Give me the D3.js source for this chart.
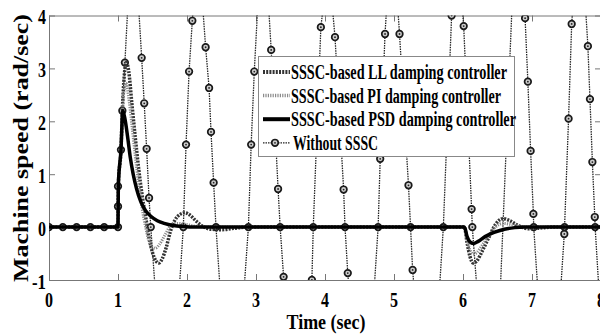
<!DOCTYPE html>
<html>
<head>
<meta charset="utf-8">
<script src="https://cdn.jsdelivr.net/npm/d3@7"></script>
<style>
  body { margin: 0; background: #fff; }
  text { font-family: "Liberation Serif", "Times New Roman", serif; font-weight: bold; fill: #000; }
</style>
</head>
<body>
<svg id="chart" width="600" height="335"></svg>
<script>
/*
  Machine speed after a disturbance, three SSSC damping controllers
  against the uncontrolled case
*/

// tick values
const timeTicks = [0, 1, 2, 3, 4, 5, 6, 7, 8]
const speedTicks = [-1, 0, 1, 2, 3, 4]

// [time (sec), speed (rad/sec)]
const llSpeed = [[0,0],[1.0,0],[1.005,0.8],[1.043,1.46],[1.063,2.2],[1.09,2.85],[1.12,3.11],[1.155,2.95],
  [1.2,2.35],[1.25,1.7],[1.3,1.1],[1.35,0.6],[1.4,0.2],[1.45,-0.2],[1.5,-0.48],[1.55,-0.64],[1.59,-0.68],
  [1.64,-0.6],[1.7,-0.38],[1.76,-0.08],[1.82,0.12],[1.9,0.24],[1.97,0.27],[2.04,0.23],[2.12,0.13],
  [2.22,0.02],[2.35,-0.04],[2.5,-0.05],[2.7,-0.02],[2.9,0],[6.0,0],[6.02,0],[6.06,-0.3],[6.1,-0.55],
  [6.15,-0.68],[6.2,-0.64],[6.28,-0.45],[6.38,-0.18],[6.47,0.05],[6.58,0.16],[6.68,0.12],[6.8,0.03],
  [6.95,-0.03],[7.1,-0.02],[7.3,0],[8,0]]

const piSpeed = [[0,0],[1.0,0],[1.005,0.8],[1.043,1.46],[1.063,2.2],[1.09,2.6],[1.115,2.72],[1.15,2.5],
  [1.2,1.95],[1.25,1.35],[1.3,0.8],[1.35,0.35],[1.4,0.0],[1.45,-0.27],[1.5,-0.38],[1.54,-0.4],[1.6,-0.33],
  [1.68,-0.15],[1.76,0.02],[1.85,0.07],[1.95,0.06],[2.1,0.02],[2.3,0],[6.0,0],[6.02,0],[6.06,-0.25],
  [6.1,-0.43],[6.15,-0.51],[6.2,-0.48],[6.28,-0.34],[6.38,-0.14],[6.48,0.01],[6.58,0.07],[6.7,0.05],
  [6.85,0.01],[7.0,0],[8,0]]

const psdSpeed = [[0,0],[1.0,0],[1.005,0.8],[1.043,1.46],[1.07,2.2],[1.1,2.05],[1.14,1.7],[1.18,1.3],
  [1.22,1.0],[1.27,0.72],[1.33,0.48],[1.4,0.31],[1.48,0.2],[1.57,0.12],[1.67,0.07],[1.8,0.03],
  [1.95,0.01],[2.1,0],[6.0,0],[6.02,0],[6.06,-0.18],[6.1,-0.28],[6.15,-0.31],[6.22,-0.27],[6.32,-0.18],
  [6.45,-0.1],[6.6,-0.04],[6.75,-0.01],[6.9,0],[8,0]]

// peaks and troughs beyond the axis are estimates, they get clipped
const withoutSpeed = [[0,0],[0.2,0],[0.4,0],[0.6,0],[0.8,0],[1.0,0],[1.0,0.39],[1.0,0.77],[1.043,1.46],
  [1.063,2.2],[1.10,3.11],[1.215,6.0],[1.343,3.2],[1.38,2.34],[1.415,1.48],[1.45,0.55],[1.475,0],
  [1.72,-4.5],[1.947,0],[1.986,1.56],[2.03,2.94],[2.077,3.9],[2.16,5.4],[2.27,3.40],[2.32,2.63],
  [2.348,1.80],[2.386,0.84],[2.42,0],[2.65,-4.5],[2.89,0],[2.93,1.56],[2.975,2.94],[3.10,6.0],
  [3.22,3.35],[3.32,0.72],[3.35,0],[3.40,-0.94],[3.6,-4.5],[3.81,-1.0],[3.83,0],[3.94,3.78],[4.05,5.0],
  [4.145,3.59],[4.27,0.71],[4.29,0],[4.33,-0.87],[4.55,-4.5],[4.77,0],[4.80,1.29],[4.87,3.65],[4.97,5.8],
  [5.08,3.65],[5.21,0.79],[5.24,0],[5.27,-0.81],[5.5,-4.5],[5.715,0],[5.835,4.0],[5.92,5.2],[6.01,3.8],
  [6.125,0.34],[6.135,0],[6.42,-5],[6.80,7],[6.9,3.95],[6.94,2.75],[6.98,1.44],[7.02,0.25],[7.025,0],
  [7.25,-4.5],[7.468,-0.13],[7.472,0],[7.53,2.05],[7.575,3.84],[7.69,6],[7.81,3.42],[7.84,2.42],
  [7.875,1.23],[7.91,0.19],[7.915,0],[8.1,-4]]

const legendLabels = [
  "SSSC-based LL damping controller",
  "SSSC-based PI damping controller",
  "SSSC-based PSD damping controller",
  "Without SSSC"
]

const svg = d3.select("#chart")
const plot = { left: 49, right: 601, top: 15.5, bottom: 280 }

const x = d3.scaleLinear().domain([0, 8]).range([plot.left, plot.right])
const y = d3.scaleLinear().domain([-1, 4]).range([plot.bottom, plot.top])

svg.append("defs").append("clipPath").attr("id", "clip")
  .append("rect")
  .attr("x", plot.left).attr("y", plot.top)
  .attr("width", plot.right - plot.left).attr("height", plot.bottom - plot.top)

// inward ticks on all four sides, matlab style
const axisColor = "#777"
const axes = [
  [d3.axisBottom(x).tickValues(timeTicks).tickSizeInner(-6), plot.bottom, "x"],
  [d3.axisTop(x).tickValues(timeTicks).tickSizeInner(-6), plot.top, "x"],
  [d3.axisLeft(y).tickValues(speedTicks).tickSizeInner(-6), plot.left, "y"],
  [d3.axisRight(y).tickValues(speedTicks).tickSizeInner(-6), plot.right, "y"]
]
axes.forEach(([axis, pos, dir]) => {
  const g = svg.append("g")
    .attr("transform", dir === "x" ? `translate(0,${pos})` : `translate(${pos},0)`)
    .call(axis.tickSizeOuter(0).tickFormat(""))
  g.select(".domain").attr("stroke", axisColor)
  g.selectAll(".tick line").attr("stroke", axisColor)
})

// tick labels (the picture is squeezed sideways, so set widths)
svg.append("g").selectAll("text")
  .data(timeTicks)
  .join("text")
  .attr("x", d => x(d))
  .attr("y", 307)
  .attr("text-anchor", "middle")
  .attr("font-size", 21)
  .attr("textLength", 8)
  .attr("lengthAdjust", "spacingAndGlyphs")
  .text(d => d)

svg.append("g").selectAll("text")
  .data(speedTicks)
  .join("text")
  .attr("x", 46)
  .attr("y", d => y(d) + 8.5)
  .attr("text-anchor", "end")
  .attr("font-size", 21)
  .attr("textLength", d => d < 0 ? 14 : 8)
  .attr("lengthAdjust", "spacingAndGlyphs")
  .text(d => d)

// axis titles
svg.append("text")
  .attr("x", 326).attr("y", 329)
  .attr("text-anchor", "middle")
  .attr("font-size", 22)
  .attr("textLength", 79)
  .attr("lengthAdjust", "spacingAndGlyphs")
  .text("Time (sec)")

svg.append("text")
  .attr("transform", "translate(28,148) rotate(-90)")
  .attr("text-anchor", "middle")
  .attr("font-size", 22)
  .attr("textLength", 268)
  .attr("lengthAdjust", "spacingAndGlyphs")
  .text("Machine speed (rad/sec)")

const lines = svg.append("g").attr("clip-path", "url(#clip)")
const toLine = d3.line().x(d => x(d[0])).y(d => y(d[1]))
const smoothLine = d3.line().x(d => x(d[0])).y(d => y(d[1])).curve(d3.curveMonotoneX)

// series styles
const styles = {
  ll: { stroke: "#333", width: 3.5, dash: "2,1.2" },
  pi: { stroke: "#8a8a8a", width: 3, dash: "1.2,1.2" },
  psd: { stroke: "#000", width: 3.5, dash: null },
  without: { stroke: "#222", width: 1.3, dash: "1.5,1" }
}

function drawMarker(g, cx, cy) {
  g.append("circle").attr("cx", cx).attr("cy", cy).attr("r", 3.3)
    .attr("fill", "#ccc").attr("stroke", "#1a1a1a").attr("stroke-width", 1.7)
  g.append("circle").attr("cx", cx).attr("cy", cy).attr("r", 0.9).attr("fill", "#222")
}

// uncontrolled case goes underneath
lines.append("path")
  .datum(withoutSpeed)
  .attr("d", toLine)
  .attr("fill", "none")
  .attr("stroke", styles.without.stroke)
  .attr("stroke-width", styles.without.width)
  .attr("stroke-dasharray", styles.without.dash)

const markers = lines.append("g")
withoutSpeed.filter(d => d[1] >= -1.05 && d[1] <= 4.05)
  .forEach(d => drawMarker(markers, x(d[0]), y(d[1])))

const series = [[llSpeed, styles.ll], [piSpeed, styles.pi], [psdSpeed, styles.psd]]
series.forEach(([data, s]) => {
  lines.append("path")
    .datum(data)
    .attr("d", smoothLine)
    .attr("fill", "none")
    .attr("stroke", s.stroke)
    .attr("stroke-width", s.width)
    .attr("stroke-dasharray", s.dash)
    .attr("stroke-linejoin", "round")
})

// legend
const legend = svg.append("g")
legend.append("rect")
  .attr("x", 258.5).attr("y", 56.5)
  .attr("width", 256).attr("height", 100)
  .attr("fill", "#fff").attr("stroke", "#888").attr("stroke-width", 1)

const legendStyles = [styles.ll, styles.pi, styles.psd, styles.without]
const legendWidths = [216, 210, 225, 85]
legendLabels.forEach((label, i) => {
  const cy = 72 + i * 23.6
  const s = legendStyles[i]
  legend.append("line")
    .attr("x1", 263).attr("x2", 290)
    .attr("y1", cy).attr("y2", cy)
    .attr("stroke", s.stroke)
    .attr("stroke-width", i === 3 ? 1.3 : s.width + 0.5)
    .attr("stroke-dasharray", s.dash)
  if (i === 3) drawMarker(legend, 275, cy)
  legend.append("text")
    .attr("x", i === 3 ? 293 : 291)
    .attr("y", cy + 7)
    .attr("font-size", 20)
    .attr("textLength", legendWidths[i])
    .attr("lengthAdjust", "spacingAndGlyphs")
    .text(label)
})
</script>
</body>
</html>
